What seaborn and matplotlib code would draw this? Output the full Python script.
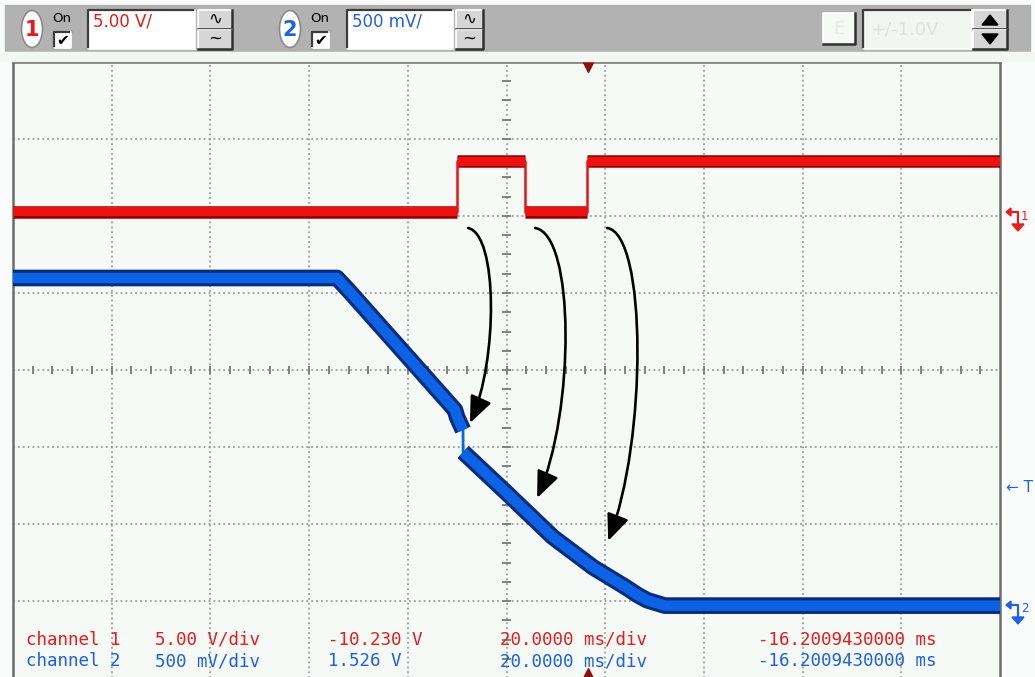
import numpy as np
import pandas as pd
import matplotlib
matplotlib.use("Agg")
import matplotlib.pyplot as plt
import seaborn as sns
from matplotlib.patches import Rectangle, Ellipse, Polygon, FancyArrowPatch
from matplotlib.path import Path

# time in ms (20 ms/div, 10 div), amplitude in screen divisions (8 div, centre = 0)
t_ch1 = [0.0, 89.97, 89.97, 103.7, 103.7, 116.3, 116.3, 200.0]
v_ch1 = [2.05, 2.05, 2.71, 2.71, 2.05, 2.05, 2.71, 2.71]

t_ch2 = [0.0, 65.65, 68.29, 89.57, 89.97, 91.19, 91.21, 100.1, 109.4, 117.5, 124.4, 126.5, 128.5, 132.1, 200.0]
v_ch2 = [1.195, 1.195, 1.013, -0.52, -0.61, -0.78, -1.065, -1.60, -2.17, -2.56, -2.83, -2.92, -2.99, -3.06, -3.06]
step_idx = 6   # thin vertical jump between index 5 and 6

trigger_t = 116.5

# curved arrows: (start t, start v, end t, end v)
arrows = [(92.2, 1.844, 92.6, -0.688),
          (105.8, 1.844, 106.2, -1.662),
          (120.4, 1.844, 120.6, -2.22)]
bulge_px = [30, 40, 40]

info_ch1 = ["channel 1", "5.00 V/div", "-10.230 V", "20.0000 ms/div", "-16.2009430000 ms"]
info_ch2 = ["channel 2", "500 mV/div", "1.526 V", "20.0000 ms/div", "-16.2009430000 ms"]
info_x = [26, 155, 328, 500, 758]

RED = "#ee1111"
DRED = "#9a0000"
BLUE = "#0d63e6"
DBLUE = "#0a2c7a"
TRED = "#e81c1c"
TBLUE = "#1e60e6"

W, H = 1035, 677
fig = plt.figure(figsize=(10.35, 6.77), dpi=100, facecolor="#fafcfb")


def fr(x0, y0, x1, y1):
    return [x0 / W, 1 - y1 / H, (x1 - x0) / W, (y1 - y0) / H]


ax = fig.add_axes(fr(13, 62, 1000, 678))
ax.set_xlim(0, 200)
ax.set_ylim(-4, 4)
ax.set_facecolor("#f5faf7")
for s in ax.spines.values():
    s.set_color("#6e6e6e")
    s.set_linewidth(1.8)
ax.set_xticks([])
ax.set_yticks([])

# graticule
grid_kw = dict(color="#8c8c8c", lw=1.1, ls=(0, (1.2, 2.0)), zorder=1)
for gx in np.arange(20, 200, 20):
    ax.axvline(gx, **grid_kw)
for gy in np.arange(-3, 4, 1):
    ax.axhline(gy, **grid_kw)
ax.vlines(np.arange(4, 200, 4), -0.055, 0.055, color="#808080", lw=1.4, zorder=1)
ax.hlines(np.arange(-3.75, 4, 0.25), 100 - 0.85, 100 + 0.85, color="#808080", lw=1.4, zorder=1)

# channel 1 (red)
df1 = pd.DataFrame({"t": t_ch1, "v": v_ch1})
for i in range(0, len(t_ch1), 2):
    ax.hlines(v_ch1[i], t_ch1[i], t_ch1[i + 1], color=DRED, lw=9.0, zorder=3)
    ax.hlines(v_ch1[i] + 0.01, t_ch1[i], t_ch1[i + 1], color=RED, lw=6.5, zorder=3)
sns.lineplot(data=df1, x="t", y="v", sort=False, estimator=None, ax=ax,
             color=RED, lw=1.8, zorder=3)

# channel 2 (blue)
df2 = pd.DataFrame({"t": t_ch2, "v": v_ch2})
for part in (df2.iloc[:step_idx], df2.iloc[step_idx:]):
    sns.lineplot(data=part, x="t", y="v", sort=False, estimator=None, ax=ax,
                 color=DBLUE, lw=12.0, zorder=3, solid_joinstyle="round", solid_capstyle="butt")
    sns.lineplot(data=part, x="t", y="v", sort=False, estimator=None, ax=ax,
                 color=BLUE, lw=7.5, zorder=3, solid_joinstyle="round", solid_capstyle="butt")
sns.lineplot(data=df2, x="t", y="v", sort=False, estimator=None, ax=ax,
             color=BLUE, lw=2.0, zorder=3)
ax.set_xlabel("")
ax.set_ylabel("")

# curved arrows
ms_per_px = 20 / 98.7
div_per_px = 1 / 77
for (t0, v0, t1, v1), b in zip(arrows, bulge_px):
    chord = (v0 - v1)
    verts = [(t0, v0),
             (t0 + b * ms_per_px, v0 - 6 * div_per_px),
             (t0 + b * ms_per_px, v1 + 0.32 * chord),
             (t1, v1)]
    p = Path(verts, [Path.MOVETO, Path.CURVE4, Path.CURVE4, Path.CURVE4])
    arr = FancyArrowPatch(path=p, arrowstyle="-|>,head_length=0.95,head_width=0.4",
                          mutation_scale=17, color="black", lw=1.9, zorder=6)
    ax.add_patch(arr)

# trigger position markers
ax.plot([trigger_t], [4 - 0.05], marker="v", ms=9, color="#8b1010", clip_on=False, zorder=7)
ax.plot([trigger_t], [-4 + 0.05], marker="^", ms=9, color="#8b1010", clip_on=False, zorder=7)

# readout text
for txt, x in zip(info_ch1, info_x):
    fig.text(x / W, 1 - 640 / H, txt, color=TRED, fontsize=12.6,
             family="DejaVu Sans Mono", va="center", ha="left", zorder=8)
for txt, x in zip(info_ch2, info_x):
    fig.text(x / W, 1 - 661 / H, txt, color=TBLUE, fontsize=12.6,
             family="DejaVu Sans Mono", va="center", ha="left", zorder=8)

# overlay in pixel coordinates for the instrument toolbar and side markers
ui = fig.add_axes([0, 0, 1, 1], zorder=10)
ui.set_xlim(0, W)
ui.set_ylim(H, 0)
ui.axis("off")
ui.patch.set_alpha(0)

ui.add_patch(Rectangle((5, 5), 1025, 47, color="#b2b2b2", zorder=1))
ui.add_patch(Rectangle((0, 52), W, 9, color="#f3f7f4", zorder=1))


def sunken(x0, y0, x1, y1, fc="white"):
    ui.add_patch(Rectangle((x0, y0), x1 - x0, y1 - y0, fc=fc, ec="none", zorder=2))
    ui.plot([x0, x0, x1], [y1, y0, y0], color="#3c3c3c", lw=1.6, zorder=3)
    ui.plot([x0, x1, x1], [y1, y1, y0], color="#ffffff", lw=1.2, zorder=3)


def raised(x0, y0, x1, y1, fc="#d6d6d6"):
    ui.add_patch(Rectangle((x0, y0), x1 - x0, y1 - y0, fc=fc, ec="none", zorder=2))
    ui.plot([x0, x0, x1], [y1, y0, y0], color="#ffffff", lw=1.2, zorder=3)
    ui.plot([x0, x1, x1], [y1, y1, y0], color="#303030", lw=1.8, zorder=3)


def channel_block(cx, num, color, label, box_x0, box_x1, btn_x0, btn_x1):
    ui.add_patch(Ellipse((cx, 29), 21, 37, fc="white", ec="#8a8a8a", lw=1.2, zorder=2))
    ui.text(cx, 30, num, color=color, fontsize=15, fontweight="bold",
            ha="center", va="center", zorder=4)
    ui.text(cx + 30, 19, "On", color="black", fontsize=9.5, ha="center", va="center", zorder=4)
    sunken(cx + 30 - 8, 32, cx + 30 + 9, 48)
    ui.text(cx + 30.5, 40.5, "✔", color="black", fontsize=11, ha="center", va="center", zorder=4)
    sunken(box_x0, 10, box_x1, 49)
    ui.text(box_x0 + 5, 22, label, color=color, fontsize=12, ha="left", va="center", zorder=4)
    raised(btn_x0, 10, btn_x1, 29)
    raised(btn_x0, 30, btn_x1, 49)
    ui.text((btn_x0 + btn_x1) / 2, 19, "∿", color="black", fontsize=12,
            ha="center", va="center", zorder=4)
    ui.text((btn_x0 + btn_x1) / 2, 39, "~", color="black", fontsize=12,
            ha="center", va="center", zorder=4)


channel_block(32, "1", TRED, "5.00 V/", 88, 195, 198, 232)
channel_block(290, "2", TBLUE, "500 mV/", 347, 453, 456, 483)

# right-hand controls
raised(823, 13, 855, 44, fc="#f6f9f6")
ui.text(839, 29, "E", color="#e6ebe6", fontsize=13, ha="center", va="center", zorder=4)
sunken(863, 10, 972, 49, fc="#f2f6f2")
ui.text(870, 29, "+/-1.0V", color="#dde3dd", fontsize=13, ha="left", va="center", zorder=4)
raised(973, 10, 1007, 29)
raised(973, 30, 1007, 49)
ui.add_patch(Polygon([(982, 25), (998, 25), (990, 15)], color="black", zorder=4))
ui.add_patch(Polygon([(982, 34), (998, 34), (990, 44)], color="black", zorder=4))

# ground / trigger level markers at the right edge
for y0, num, color in ((212, "1", TRED), (605, "2", TBLUE)):
    ui.plot([1010, 1018, 1018], [y0, y0, y0 + 13], color=color, lw=1.6, zorder=4)
    ui.add_patch(Polygon([(1006, y0), (1011, y0 - 4), (1011, y0 + 4)], color=color, zorder=4))
    ui.add_patch(Polygon([(1012, y0 + 12), (1024, y0 + 12), (1018, y0 + 19)], color=color, zorder=4))
    ui.text(1021, y0 + 4, num, color=color, fontsize=8.5, ha="left", va="center", zorder=4)
ui.text(1006, 487, "← T", color=TBLUE, fontsize=11, ha="left", va="center", zorder=4)

fig.savefig("out.png", dpi=100, facecolor=fig.get_facecolor())
